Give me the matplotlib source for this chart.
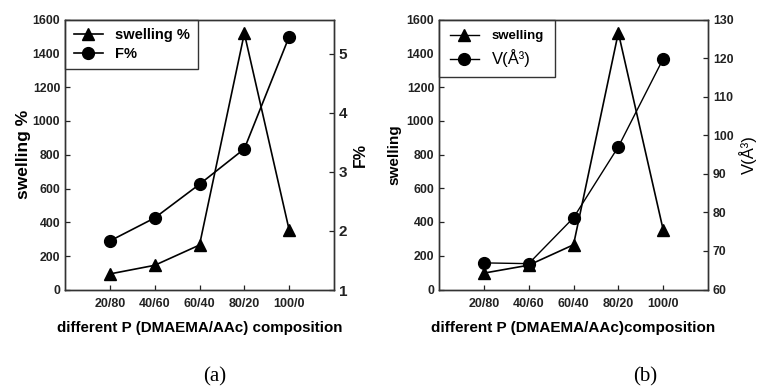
import matplotlib
matplotlib.use("Agg")
import matplotlib.pyplot as plt
from matplotlib.lines import Line2D

plt.rcParams['font.family'] = ['Liberation Sans', 'DejaVu Sans']

categories = ['20/80', '40/60', '60/40', '80/20', '100/0']
positions = [1, 2, 3, 4, 5]
swelling_a = [95, 146, 266, 1518, 355]
f_percent = [1.83, 2.22, 2.79, 3.39, 5.29]
f_err = [0, 0, 0, 0, 0.06]
swelling_b = [97, 144, 265, 1522, 354]
volume = [66.9, 66.7, 78.6, 97.0, 119.8]

W, H = 760, 387
fig = plt.figure(figsize=(W / 100, H / 100), dpi=100)

def make_ax(x0, x1, y0, y1):
    return fig.add_axes([x0 / W, 1 - y1 / H, (x1 - x0) / W, (y1 - y0) / H])

tick_kw = dict(direction='in', length=3.5, width=0.9, colors='#222222')

def style(ax):
    for s in ax.spines.values():
        s.set_linewidth(1.0)
        s.set_color('#333333')
    ax.tick_params(**tick_kw)

def label_bold(ax):
    for t in ax.get_yticklabels() + ax.get_xticklabels():
        t.set_fontweight('bold')

line_kw = dict(color='black', lw=1.2, markersize=8.5)

# ---------- panel (a)
axa = make_ax(65, 334, 19.5, 290)
axa.plot(positions, swelling_a, marker='^', **line_kw)
axa.set_xlim(0, 6)
axa.set_ylim(0, 1600)
axa.set_yticks(range(0, 1601, 200))
axa.set_xticks(positions)
axa.set_xticklabels(categories, fontsize=9, fontweight='bold', color='#222222')
axa.tick_params(axis='y', labelsize=8.8, labelcolor='#111111')
axa.tick_params(axis='x', pad=6)
axa.set_ylabel('swelling %', fontsize=12.5, fontweight='bold', labelpad=1)
axa.set_xlabel('different P (DMAEMA/AAc) composition', fontsize=10.9, fontweight='bold', labelpad=8)
style(axa)
axa2 = axa.twinx()
axa2.errorbar(positions, f_percent, yerr=f_err, marker='o', capsize=3, elinewidth=1, **line_kw)
axa2.set_ylim(1, 5.58)
axa2.set_yticks([1, 2, 3, 4, 5])
axa2.tick_params(axis='y', labelsize=11, labelcolor='#111111')
axa2.set_ylabel('F%', fontsize=11.5, fontweight='bold', labelpad=4)
style(axa2)
label_bold(axa); label_bold(axa2)

h1 = Line2D([], [], marker='^', **line_kw)
h2 = Line2D([], [], marker='o', **line_kw)
leg = axa.legend([h1, h2], ['swelling %', 'F%'], loc='upper left', bbox_to_anchor=(0, 1),
                 borderaxespad=0, fancybox=False, edgecolor='#333333', framealpha=1,
                 prop={'weight': 'bold', 'size': 10.5}, handlelength=2.0, handletextpad=0.8,
                 borderpad=0.6, labelspacing=0.3)
leg.get_frame().set_linewidth(1.0)

# ---------- panel (b)
axb = make_ax(439, 708, 19.5, 289.5)
axb.plot(positions, swelling_b, marker='^', **line_kw)
axb.set_xlim(0, 6)
axb.set_ylim(0, 1600)
axb.set_yticks(range(0, 1601, 200))
axb.set_xticks(positions)
axb.set_xticklabels(categories, fontsize=9, fontweight='bold', color='#222222')
axb.tick_params(axis='y', labelsize=8.8, labelcolor='#111111')
axb.tick_params(axis='x', pad=6)
axb.set_ylabel('swelling', fontsize=11, fontweight='bold', labelpad=4)
axb.set_xlabel('different P (DMAEMA/AAc)composition', fontsize=11, fontweight='bold', labelpad=8)
style(axb)
axb2 = axb.twinx()
axb2.plot(positions, volume, marker='o', lw=1.0, color='black', markersize=8.5)
axb2.set_ylim(60, 130)
axb2.set_yticks(range(60, 131, 10))
axb2.tick_params(axis='y', labelsize=8.8, labelcolor='#111111')
axb2.set_ylabel('V(Å³)', fontsize=12, labelpad=4)
style(axb2)
label_bold(axb); label_bold(axb2)

h3 = Line2D([], [], marker='^', lw=1.0, color='black', markersize=8.5)
h4 = Line2D([], [], marker='o', lw=1.0, color='black', markersize=8.5)
legb = axb.legend([h3, h4], ['swelling', 'V(Å³)'], loc='upper left', bbox_to_anchor=(0, 1),
                  borderaxespad=0, fancybox=False, edgecolor='#333333', framealpha=1,
                  prop={'size': 9.5}, handlelength=2.2, handletextpad=1.0,
                  borderpad=0.8, labelspacing=0.5)
legb.get_frame().set_linewidth(1.0)
legb.get_texts()[0].set_fontweight('bold')
legb.get_texts()[1].set_fontsize(12)

# panel captions
fig.text(215 / W, 1 - 377 / H, '(a)', ha='center', va='center', fontsize=15, family='Liberation Serif')
fig.text(645 / W, 1 - 377 / H, '(b)', ha='center', va='center', fontsize=15, family='Liberation Serif')

fig.savefig('out.png', dpi=100, facecolor='white')
